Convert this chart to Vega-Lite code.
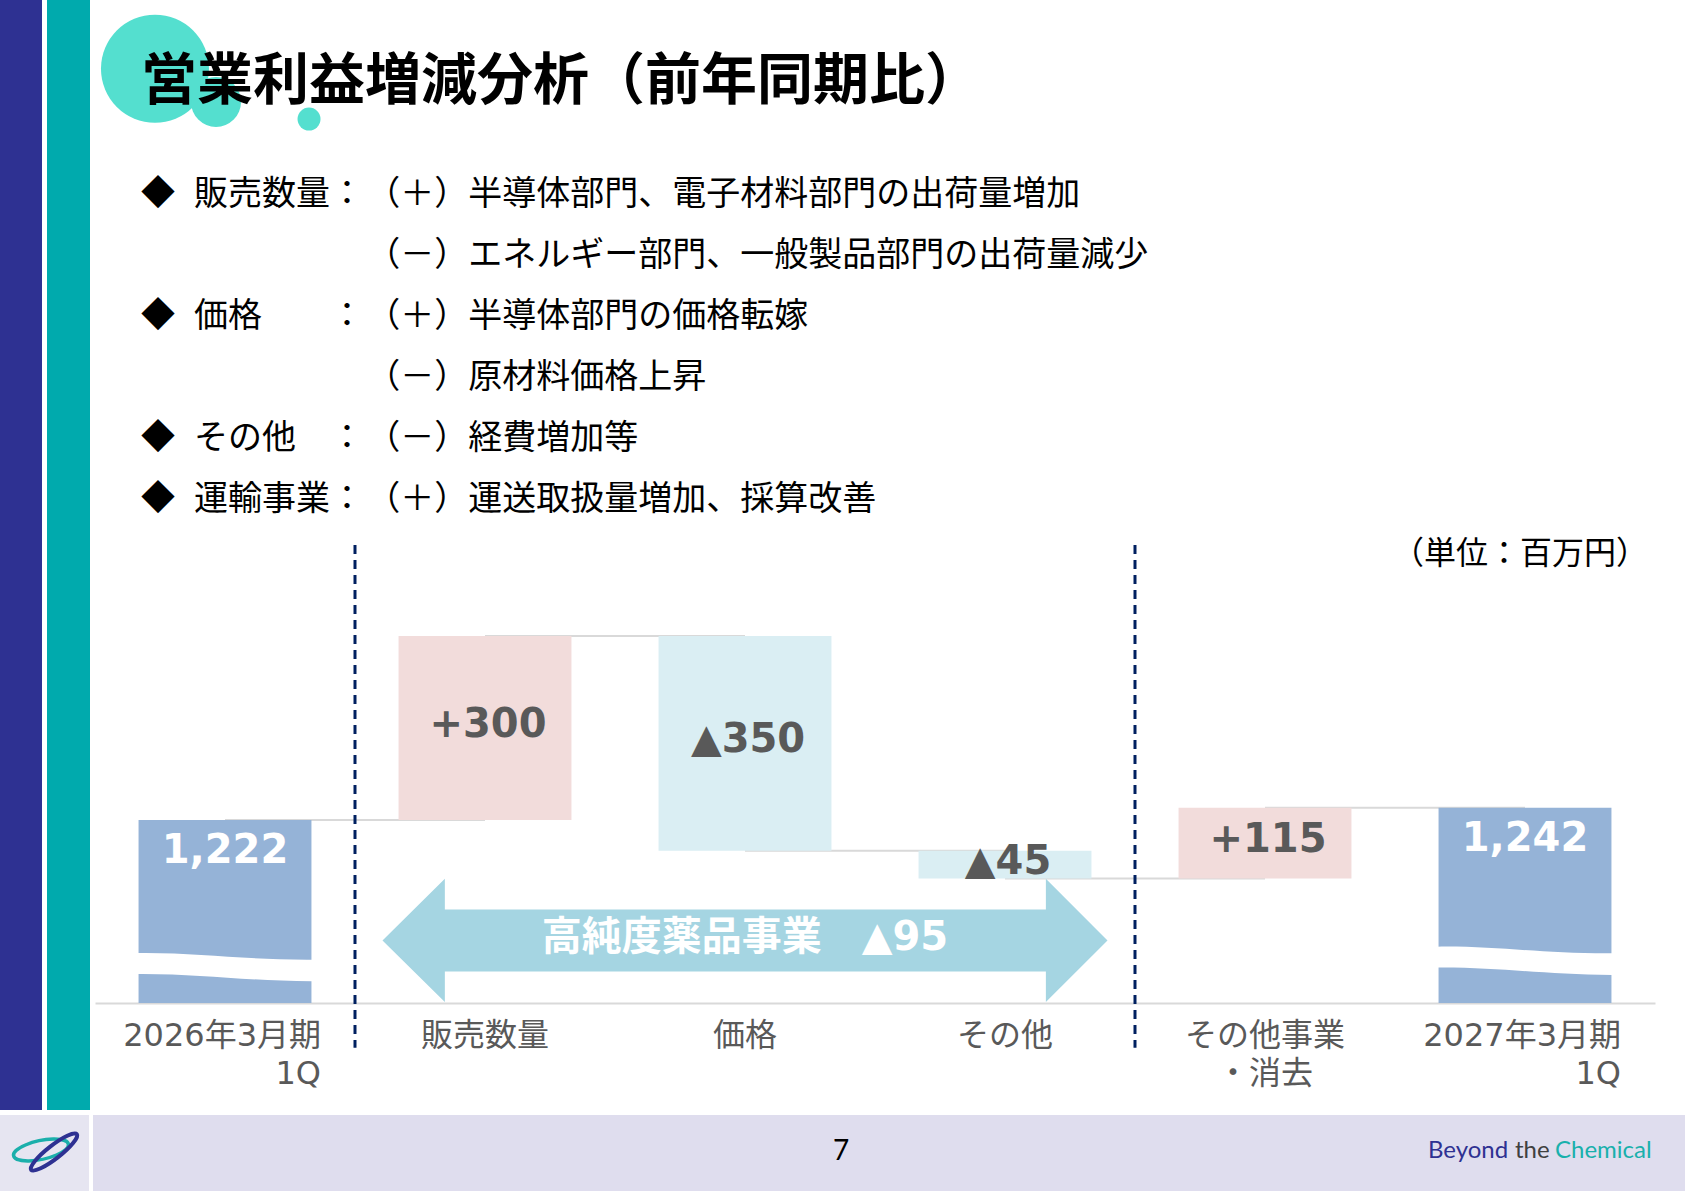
{
  "$schema": "https://vega.github.io/schema/vega-lite/v6.json",
  "background": "#FFFFFF",
  "padding": 0,
  "spacing": 5,
  "config": {"view": {"stroke": null}, "font": "Noto Sans CJK JP"},
  "datasets": {
    "bars": [
      {"cat": "2026年3月期|1Q", "kind": "total", "start": 0, "end": 1222, "label": "1,222"},
      {"cat": "販売数量", "kind": "up", "start": 1222, "end": 1522, "label": "+300"},
      {"cat": "価格", "kind": "down", "start": 1522, "end": 1172, "label": "▲350"},
      {"cat": "その他", "kind": "down", "start": 1172, "end": 1127, "label": "▲45"},
      {"cat": "その他事業|・消去", "kind": "up", "start": 1127, "end": 1242, "label": "+115"},
      {"cat": "2027年3月期|1Q", "kind": "total", "start": 0, "end": 1242, "label": "1,242"}
    ],
    "links": [
      {"from": "2026年3月期|1Q", "to": "販売数量", "level": 1222},
      {"from": "販売数量", "to": "価格", "level": 1522},
      {"from": "価格", "to": "その他", "level": 1172},
      {"from": "その他", "to": "その他事業|・消去", "level": 1127},
      {"from": "その他事業|・消去", "to": "2027年3月期|1Q", "level": 1242}
    ],
    "breaks": [
      {"cat": "2026年3月期|1Q", "at": 982.6},
      {"cat": "2027年3月期|1Q", "at": 993}
    ],
    "dividers": [{"cat": "販売数量"}, {"cat": "その他事業|・消去"}],
    "segment": [{"segment": "高純度薬品事業", "change": -95, "label": "高純度薬品事業　▲95"}]
  },
  "vconcat": [
    {
      "spacing": 5,
      "hconcat": [
        {"width": 42, "height": 1110, "view": {"fill": "#2E3192", "stroke": null}, "data": {"values": [{}]}, "mark": {"type": "point", "opacity": 0}},
        {"width": 43, "height": 1110, "view": {"fill": "#00AAAD", "stroke": null}, "data": {"values": [{}]}, "mark": {"type": "point", "opacity": 0}},
        {
          "width": 1560,
          "height": 1003,
          "view": {"stroke": null},
          "title": {
            "text": "営業利益増減分析（前年同期比）",
            "subtitle": [
              "◆\u2002\u200A販売数量：\u200A（＋）半導体部門、電子材料部門の出荷量増加",
              "\u200B\u3000\u3000\u3000\u3000\u3000\u3000\u2002\u200A\u200A（－）エネルギー部門、一般製品部門の出荷量減少",
              "◆\u2002\u200A価格\u3000\u3000：\u200A（＋）半導体部門の価格転嫁",
              "\u200B\u3000\u3000\u3000\u3000\u3000\u3000\u2002\u200A\u200A（－）原材料価格上昇",
              "◆\u2002\u200Aその他\u3000：\u200A（－）経費増加等",
              "◆\u2002\u200A運輸事業：\u200A（＋）運送取扱量増加、採算改善"
            ],
            "anchor": "start",
            "frame": "group",
            "dx": 46,
            "offset": -518,
            "font": "Noto Sans CJK JP",
            "fontSize": 56,
            "fontWeight": "bold",
            "color": "#000000",
            "subtitleFont": "Noto Sans CJK JP",
            "subtitleFontSize": 34,
            "subtitleFontWeight": "normal",
            "subtitleColor": "#000000",
            "subtitleLineHeight": 61,
            "subtitlePadding": 67
          },
          "layer": [
            {
              "data": {"values": [{"shape": "circle"}]},
              "mark": {"type": "point", "shape": "circle", "filled": true, "opacity": 1, "color": "#54DFCF", "size": 11664, "strokeWidth": 0},
              "encoding": {
                "x": {"datum": "2026年3月期|1Q", "type": "nominal", "bandPosition": 0.095, "title": null},
                "y": {"datum": 2446, "type": "quantitative", "axis": null}
              }
            },
            {
              "data": {"values": [{"shape": "circle"}]},
              "mark": {"type": "point", "shape": "circle", "filled": true, "opacity": 1, "color": "#54DFCF", "size": 2500, "strokeWidth": 0},
              "encoding": {
                "x": {"datum": "2026年3月期|1Q", "type": "nominal", "bandPosition": 0.448, "title": null},
                "y": {"datum": 2392, "type": "quantitative", "axis": null}
              }
            },
            {
              "data": {"values": [{"shape": "circle"}]},
              "mark": {"type": "point", "shape": "circle", "filled": true, "opacity": 1, "color": "#54DFCF", "size": 529, "strokeWidth": 0},
              "encoding": {
                "x": {"datum": "2026年3月期|1Q", "type": "nominal", "bandPosition": 0.986, "title": null},
                "y": {"datum": 2364, "type": "quantitative", "axis": null}
              }
            },
            {
              "data": {"name": "links"},
              "mark": {"type": "rule", "color": "#D9D9D9", "strokeWidth": 2},
              "encoding": {
                "x": {"field": "from", "type": "nominal", "title": null},
                "x2": {"field": "to"},
                "y": {"field": "level", "type": "quantitative", "axis": null}
              }
            },
            {
              "data": {"name": "bars"},
              "mark": {"type": "bar", "clip": true},
              "encoding": {
                "x": {
                  "field": "cat",
                  "type": "nominal",
                  "sort": null,
                  "title": null,
                  "scale": {
                    "domain": ["2026年3月期|1Q", "販売数量", "価格", "その他", "その他事業|・消去", "2027年3月期|1Q"],
                    "paddingInner": 0.335,
                    "paddingOuter": 0.1675
                  },
                  "axis": {
                    "title": null,
                    "orient": "bottom",
                    "domain": true,
                    "domainColor": "#D9D9D9",
                    "domainWidth": 2,
                    "ticks": false,
                    "tickSize": 0,
                    "grid": false,
                    "labelAngle": 0,
                    "labelExpr": "split(datum.label, '|')",
                    "labelFont": "DejaVu Sans, Noto Sans CJK JP",
                    "labelFontSize": 32,
                    "labelColor": "#595959",
                    "labelPadding": 17,
                    "labelLineHeight": 38,
                    "labelLimit": 0,
                    "labelOverlap": false,
                    "labelBaseline": "top",
                    "labelAlign": {"condition": {"test": "indexof(datum.value, '年') >= 0", "value": "right"}, "value": "center"},
                    "labelOffset": {"condition": {"test": "indexof(datum.value, '年') >= 0", "value": 96}, "value": 0}
                  }
                },
                "y": {"field": "start", "type": "quantitative", "scale": {"domain": [924, 2558], "nice": false, "zero": false}, "axis": null},
                "y2": {"field": "end"},
                "color": {
                  "field": "kind",
                  "type": "nominal",
                  "scale": {"domain": ["total", "up", "down"], "range": ["#95B3D7", "#F2DCDB", "#DAEEF3"]},
                  "legend": null
                }
              }
            },
            {
              "data": {"name": "breaks"},
              "mark": {"type": "point", "shape": "M-1.01,-0.162C-0.3,-0.17 0.2,-0.08 1.01,-0.085L1.01,0.165C0.2,0.16 -0.3,0.075 -1.01,0.08Z", "filled": true, "opacity": 1, "color": "#FFFFFF", "size": 29929, "strokeWidth": 0},
              "encoding": {
                "x": {"field": "cat", "type": "nominal", "title": null},
                "y": {"field": "at", "type": "quantitative", "axis": null}
              }
            },
            {
              "data": {"name": "segment"},
              "mark": {"type": "point", "shape": "M-1,0L-0.828,-0.17L-0.828,-0.0855L0.83,-0.0855L0.83,-0.17L1,0L0.83,0.17L0.83,0.0855L-0.828,0.0855L-0.828,0.17Z", "filled": true, "opacity": 1, "color": "#A5D5E2", "size": 525625, "strokeWidth": 0},
              "encoding": {
                "x": {"datum": "価格", "type": "nominal", "title": null},
                "y": {"datum": 1026, "type": "quantitative", "axis": null}
              }
            },
            {
              "data": {"name": "segment"},
              "mark": {"type": "text", "font": "DejaVu Sans, Noto Sans CJK JP", "fontSize": 40, "fontWeight": "bold", "color": "#FFFFFF", "baseline": "middle", "align": "center", "dy": -2},
              "encoding": {
                "x": {"datum": "価格", "type": "nominal", "title": null},
                "y": {"datum": 1026, "type": "quantitative", "axis": null},
                "text": {"field": "label"}
              }
            },
            {
              "data": {"name": "bars"},
              "transform": [{"filter": "datum.kind == 'total'"}],
              "mark": {"type": "text", "font": "DejaVu Sans, Noto Sans CJK JP", "fontSize": 40, "fontWeight": "bold", "color": "#FFFFFF", "baseline": "middle", "align": "center", "dy": 31},
              "encoding": {
                "x": {"field": "cat", "type": "nominal", "title": null},
                "y": {"field": "end", "type": "quantitative", "axis": null},
                "text": {"field": "label"}
              }
            },
            {
              "data": {"name": "bars"},
              "transform": [
                {"filter": "datum.kind != 'total'"},
                {"calculate": "(datum.start + datum.end) / 2", "as": "mid"}
              ],
              "mark": {"type": "text", "font": "DejaVu Sans, Noto Sans CJK JP", "fontSize": 40, "fontWeight": "bold", "color": "#595959", "baseline": "middle", "align": "center", "dy": -3, "dx": 3},
              "encoding": {
                "x": {"field": "cat", "type": "nominal", "title": null},
                "y": {"field": "mid", "type": "quantitative", "axis": null},
                "text": {"field": "label"}
              }
            },
            {
              "data": {"name": "dividers"},
              "mark": {"type": "rule", "color": "#002060", "strokeWidth": 3, "strokeDash": [9, 6]},
              "encoding": {
                "x": {"field": "cat", "type": "nominal", "bandPosition": -0.2519, "title": null},
                "y": {"datum": 1670, "type": "quantitative", "axis": null},
                "y2": {"datum": 851}
              }
            },
            {
              "data": {"values": [{"note": "（単位：百万円）"}]},
              "mark": {"type": "text", "align": "right", "baseline": "middle", "fontSize": 32, "dx": -7, "color": "#000000", "font": "Noto Sans CJK JP"},
              "encoding": {
                "x": {"value": "width"},
                "y": {"datum": 1656, "type": "quantitative", "axis": null},
                "text": {"field": "note"}
              }
            }
          ]
        }
      ]
    },
    {
      "spacing": 4,
      "hconcat": [
        {
          "width": 89,
          "height": 76,
          "view": {"fill": "#E6E5F1", "stroke": null},
          "data": {"values": [{"logo": "mark"}]},
          "layer": [
            {"mark": {"type": "point", "shape": "M-1.103,0.101A1,0.33 -12 1,1 0.853,-0.315A1,0.33 -12 1,1 -1.103,0.101Z", "filled": false, "opacity": 1, "stroke": "#1BAFAB", "strokeWidth": 3.5, "size": 3136}},
            {"mark": {"type": "point", "shape": "M-0.445,0.563A0.967,0.22 -38 1,1 1.079,-0.629A0.967,0.22 -38 1,1 -0.445,0.563Z", "filled": false, "opacity": 1, "stroke": "#2E3192", "strokeWidth": 4, "size": 3600}}
          ]
        },
        {
          "width": 1592,
          "height": 76,
          "view": {"fill": "#DFDDEE", "stroke": null},
          "data": {"values": [{"page": 7}]},
          "layer": [
            {"mark": {"type": "text", "text": "7", "font": "Lato", "fontSize": 28, "color": "#000000", "align": "center", "baseline": "middle", "dx": -48, "dy": -1}},
            {"mark": {"type": "text", "text": "Beyond", "font": "Lato", "fontSize": 24, "color": "#2E3192", "align": "left", "baseline": "middle", "dx": 539, "dy": -2}},
            {"mark": {"type": "text", "text": "the", "font": "Lato", "fontSize": 24, "color": "#404040", "align": "left", "baseline": "middle", "dx": 626, "dy": -2}},
            {"mark": {"type": "text", "text": "Chemical", "font": "Lato", "fontSize": 24, "color": "#19B0AC", "align": "left", "baseline": "middle", "dx": 666, "dy": -2}}
          ]
        }
      ]
    }
  ]
}
